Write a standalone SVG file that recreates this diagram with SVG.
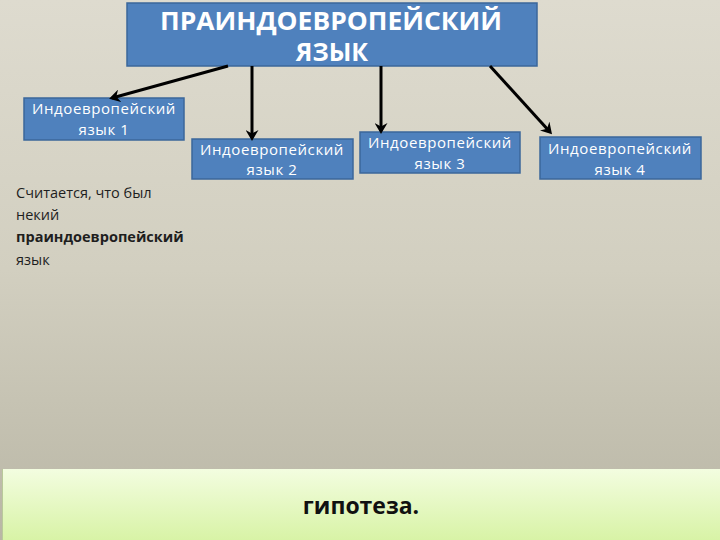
<svg xmlns="http://www.w3.org/2000/svg" width="720" height="540" viewBox="0 0 720 540">
<defs>
<linearGradient id="bg" x1="0" y1="0" x2="0" y2="1">
<stop offset="0" stop-color="#dedbcf"/>
<stop offset="0.5" stop-color="#d2cfc0"/>
<stop offset="1" stop-color="#b9b6a5"/>
</linearGradient>
<linearGradient id="gr" x1="0" y1="0" x2="0" y2="1">
<stop offset="0" stop-color="#f3fde0"/>
<stop offset="1" stop-color="#d8f3a6"/>
</linearGradient>
<marker id="ah" markerWidth="13" markerHeight="13" refX="8" refY="6.5" orient="auto" markerUnits="userSpaceOnUse" viewBox="0 0 13 13">
<path d="M0,0 L11,6.5 L0,13 L3.5,6.5 Z" fill="#000"/>
</marker>
<style>
.box{fill:#4f81bd;stroke:#3b679b;stroke-width:1.5}
.bt{font-family:"Open Sans","DejaVu Sans",sans-serif;font-size:15px;letter-spacing:0.6px;fill:#fff;text-anchor:middle}
.tt{font-family:"Open Sans","Liberation Sans",sans-serif;font-size:25px;font-weight:bold;fill:#fff;text-anchor:middle}
.lt{font-family:"Open Sans","DejaVu Sans",sans-serif;font-size:14.5px;fill:#1e1e1e}
.cn{stroke:#000;stroke-width:3;fill:none;marker-end:url(#ah)}
</style>
</defs>
<rect x="0" y="0" width="720" height="540" fill="url(#bg)"/>
<g id="bottom">
<rect x="2" y="469" width="718" height="71" fill="url(#gr)"/>
<line x1="2.5" y1="469" x2="2.5" y2="540" stroke="#b9c99a" stroke-width="1"/>
<text x="361" y="514" font-family="'Open Sans','Liberation Sans',sans-serif" font-size="23" font-weight="bold" fill="#111" text-anchor="middle">гипотеза.</text>
</g>
<g id="root">
<rect class="box" x="127" y="3" width="410" height="63"/>
<text class="tt" x="331" y="30" textLength="342" lengthAdjust="spacingAndGlyphs">ПРАИНДОЕВРОПЕЙСКИЙ</text>
<text class="tt" x="332" y="61">ЯЗЫК</text>
</g>
<g id="lang1">
<rect class="box" x="24" y="98" width="160" height="42"/>
<text class="bt" x="104" y="114">Индоевропейский</text>
<text class="bt" x="104" y="135">язык 1</text>
</g>
<g id="lang2">
<rect class="box" x="192" y="139" width="161" height="40"/>
<text class="bt" x="272" y="155">Индоевропейский</text>
<text class="bt" x="272" y="175">язык 2</text>
</g>
<g id="lang3">
<rect class="box" x="360" y="132" width="160" height="41"/>
<text class="bt" x="440" y="148">Индоевропейский</text>
<text class="bt" x="440" y="169">язык 3</text>
</g>
<g id="lang4">
<rect class="box" x="540" y="137" width="161" height="42"/>
<text class="bt" x="620" y="154">Индоевропейский</text>
<text class="bt" x="620" y="175">язык 4</text>
</g>
<g id="note">
<text class="lt" x="16" y="198">Считается, что был</text>
<text class="lt" x="16" y="220">некий</text>
<text class="lt" x="16" y="242" font-weight="bold">праиндоевропейский</text>
<text class="lt" x="16" y="265">язык</text>
</g>
<g id="connectors">
<line class="cn" x1="228" y1="66" x2="112" y2="98"/>
<line class="cn" x1="252" y1="66" x2="252" y2="138"/>
<line class="cn" x1="381" y1="66" x2="381" y2="131"/>
<line class="cn" x1="490" y1="66" x2="550" y2="132"/>
</g>
</svg>
